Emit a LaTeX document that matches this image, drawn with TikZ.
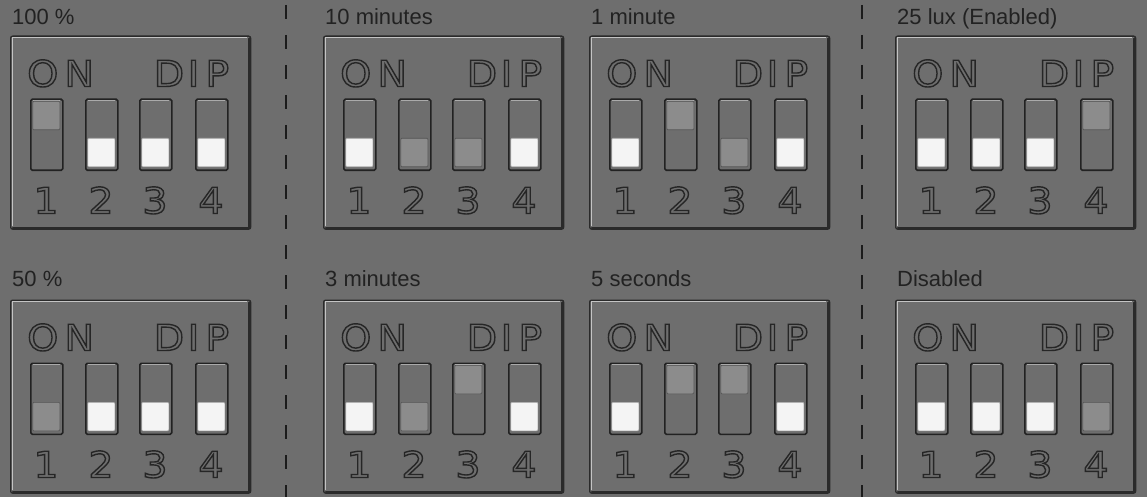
\documentclass[tikz,border=0pt]{standalone}
\usepackage{fontspec}
\setmainfont{Liberation Sans}
\newfontfamily\dipfont[FakeStretch=1.1]{DejaVu Sans}
\definecolor{bg}{HTML}{6E6E6E}
\definecolor{labc}{HTML}{222222}
\definecolor{boxedge}{HTML}{2A2A2A}
\definecolor{hlc}{HTML}{C4C4C4}
\definecolor{swedge}{HTML}{222222}
\definecolor{knobw}{HTML}{F4F4F4}
\definecolor{knobwedge}{HTML}{A8A8A8}
\definecolor{knobg}{HTML}{8C8C8C}
\definecolor{knobgedge}{HTML}{555555}
\definecolor{divc}{HTML}{1C1C1C}
\definecolor{letc}{HTML}{262626}
\newcommand\hollow[1]{\special{pdf:literal direct 1 Tr 1.4 w}#1\special{pdf:literal direct 0 Tr}}
\tikzset{
  lab/.style={anchor=base west, inner sep=0pt, font=\fontsize{22}{22}\selectfont, text=labc},
  dipbox/.style={draw=boxedge, line width=1.3pt, rounded corners=2pt, fill=bg, anchor=north west,
                 minimum width=240pt, minimum height=193pt, inner sep=0pt},
  shade edge/.style={draw=boxedge, line width=2.2pt, line cap=round},
  hl/.style={draw=hlc, line width=1pt},
  swbody/.style={draw=swedge, line width=1.6pt, fill=bg, rounded corners=1.5pt, anchor=north west,
                 minimum width=32pt, minimum height=71pt, inner sep=0pt},
  knob/.style={anchor=north west, minimum width=27pt, minimum height=28.5pt, inner sep=0pt, line width=0.7pt, rounded corners=1pt},
  knobW/.style={knob, fill=knobw, draw=knobwedge},
  knobG/.style={knob, fill=knobg, draw=knobgedge},
  knobT/.style={knob, fill=knobg, draw=knobgedge},
  dipword/.style={anchor=base west, inner sep=0pt, text=letc, font=\dipfont\fontsize{36}{36}\selectfont},
  digit/.style={anchor=base, inner sep=0pt, text=letc, font=\dipfont\fontsize{36}{36}\selectfont},
  divider/.style={draw=divc, line width=1.6pt, dash pattern=on 14pt off 16pt}
}
% #1 name, #2 x, #3 y, #4 label, #5-#8 switch states (W white low, G grey low, T grey high), #9 label baseline offset
\newcommand\dippanel[9]{%
  \begin{scope}[shift={(#2,#3)}]
    \node[lab] (#1-label) at (2,#9) {#4};
    \node[dipbox] (#1) at (0,0) {};
    \draw[shade edge] (239.5,3) -- (239.5,192.5) -- (3,192.5);
    \draw[hl] (2,190) -- (2,2) -- (237,2);
    \node[dipword] (#1-on) at (17,51) {\hollow{O\kern6pt N}};
    \node[dipword] (#1-dip) at (143.5,51) {\hollow{D\kern3.5pt I\kern6pt P}};
    \foreach \st/\ox [count=\i] in {#5/20,#6/75,#7/129,#8/185} {
      \node[swbody] (#1-s\i) at (\ox,63) {};
      \draw[hl, draw=hlc!70!bg] (\ox+2.5,65) -- (\ox+29.5,65);
      \if\st T\def\ky{65.5}\else\def\ky{102.5}\fi
      \node[knob\st] (#1-k\i) at (\ox+2.5,\ky) {};
      \node[digit] (#1-n\i) at (\ox+16,178) {\hollow{\i}};
    }
  \end{scope}
}
\begin{document}
\begin{tikzpicture}[x=1pt,y=-1pt]
  \fill[bg] (0,0) rectangle (1147,497);
  \useasboundingbox (0,0) rectangle (1147,497);
  \coordinate (d1top) at (286,5);
  \coordinate (d1bot) at (286,497);
  \coordinate (d2top) at (862,5);
  \coordinate (d2bot) at (862,497);
  \draw[divider] (d1top) -- (d1bot);
  \draw[divider] (d2top) -- (d2bot);
  \dippanel{p1}{10}{35.5}{100 \%}{T}{W}{W}{W}{-10.5}
  \dippanel{p2}{323}{35.5}{10 minutes}{W}{G}{G}{W}{-10.5}
  \dippanel{p3}{589}{35.5}{1 minute}{W}{T}{G}{W}{-10.5}
  \dippanel{p4}{895}{35.5}{25 lux (Enabled)}{W}{W}{W}{T}{-10.5}
  \dippanel{p5}{10}{299.5}{50 \%}{G}{W}{W}{W}{-13.5}
  \dippanel{p6}{323}{299.5}{3 minutes}{W}{G}{T}{W}{-13.5}
  \dippanel{p7}{589}{299.5}{5 seconds}{W}{T}{T}{W}{-13.5}
  \dippanel{p8}{895}{299.5}{Disabled}{W}{W}{W}{G}{-13.5}
\end{tikzpicture}
\end{document}
